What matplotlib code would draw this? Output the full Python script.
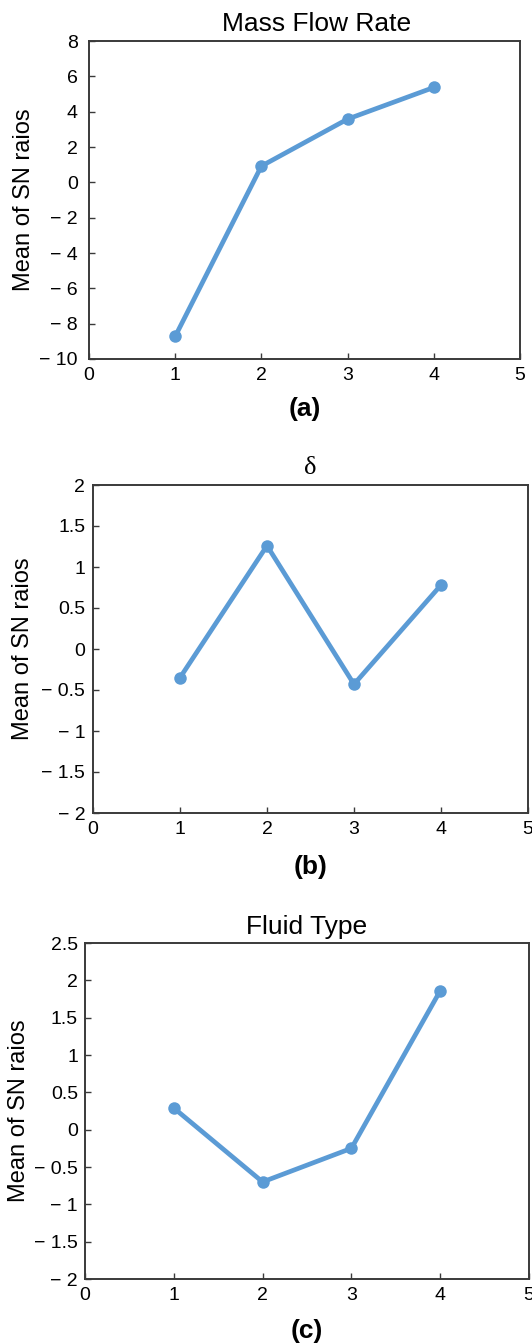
import matplotlib
matplotlib.use("Agg")
import matplotlib.pyplot as plt
from matplotlib.ticker import FixedLocator, FuncFormatter

plt.rcParams['font.family'] = ['Liberation Sans', 'DejaVu Sans']

levels = [1, 2, 3, 4]
mass_flow_sn = [-8.72, 0.92, 3.58, 5.37]
delta_sn = [-0.35, 1.26, -0.43, 0.78]
fluid_type_sn = [0.29, -0.70, -0.25, 1.86]

x_ticks = [0, 1, 2, 3, 4, 5]
mass_flow_yticks = [-10, -8, -6, -4, -2, 0, 2, 4, 6, 8]
delta_yticks = [-2, -1.5, -1, -0.5, 0, 0.5, 1, 1.5, 2]
fluid_yticks = [-2, -1.5, -1, -0.5, 0, 0.5, 1, 1.5, 2, 2.5]

LINE_COLOR = '#5b9bd5'
SPINE_COLOR = '#3a3a3a'


def fmt(v, pos=None):
    s = f'{abs(v):g}'
    return ('\u2212 ' + s) if v < 0 else s


def panel(fig, rect, y, yticks, title, tag, title_x=0.5, title_pad=7,
          title_font=None, ylab_x=-0.125, tag_y=-0.16, ypad=5.5):
    ax = fig.add_axes(rect)
    ax.plot(levels, y, color=LINE_COLOR, lw=3.4, marker='o', ms=9, mew=0,
            solid_capstyle='round', solid_joinstyle='round')
    ax.set_xlim(0, 5)
    ax.set_ylim(yticks[0], yticks[-1])
    ax.xaxis.set_major_locator(FixedLocator(x_ticks))
    ax.yaxis.set_major_locator(FixedLocator(yticks))
    ax.xaxis.set_major_formatter(FuncFormatter(fmt))
    ax.yaxis.set_major_formatter(FuncFormatter(fmt))
    ax.tick_params(direction='in', length=4, width=1, color=SPINE_COLOR,
                   labelsize=14, top=False, right=False)
    ax.tick_params(axis='x', pad=6)
    ax.tick_params(axis='y', pad=ypad)
    for sp in ax.spines.values():
        sp.set_color(SPINE_COLOR)
        sp.set_linewidth(1.4)
    kw = {'fontfamily': title_font} if title_font else {}
    ax.set_title(title, fontsize=19, pad=title_pad, x=title_x, **kw)
    ax.set_ylabel('Mean of SN raios', fontsize=17)
    ax.yaxis.set_label_coords(ylab_x, 0.5)
    ax.text(0.5, tag_y, tag, transform=ax.transAxes, ha='center', va='center',
            fontsize=19, fontweight='bold')
    return ax


fig = plt.figure(figsize=(5.32, 13.44), dpi=100)

panel(fig, [89 / 532, 1 - 359 / 1344, 431 / 532, 318 / 1344],
      mass_flow_sn, mass_flow_yticks, 'Mass Flow Rate', '(a)',
      title_x=0.527, ylab_x=-0.125, tag_y=-0.157, ypad=8)
panel(fig, [93 / 532, 1 - 813 / 1344, 435 / 532, 328 / 1344],
      delta_sn, delta_yticks, '\u03b4', '(b)', title_pad=8,
      title_font='Liberation Serif', ylab_x=-0.135, tag_y=-0.165)
panel(fig, [85 / 532, 1 - 1279 / 1344, 444 / 532, 336 / 1344],
      fluid_type_sn, fluid_yticks, 'Fluid Type', '(c)', title_pad=6.5,
      ylab_x=-0.124, tag_y=-0.155, ypad=5)

fig.savefig('out.png', dpi=100)
